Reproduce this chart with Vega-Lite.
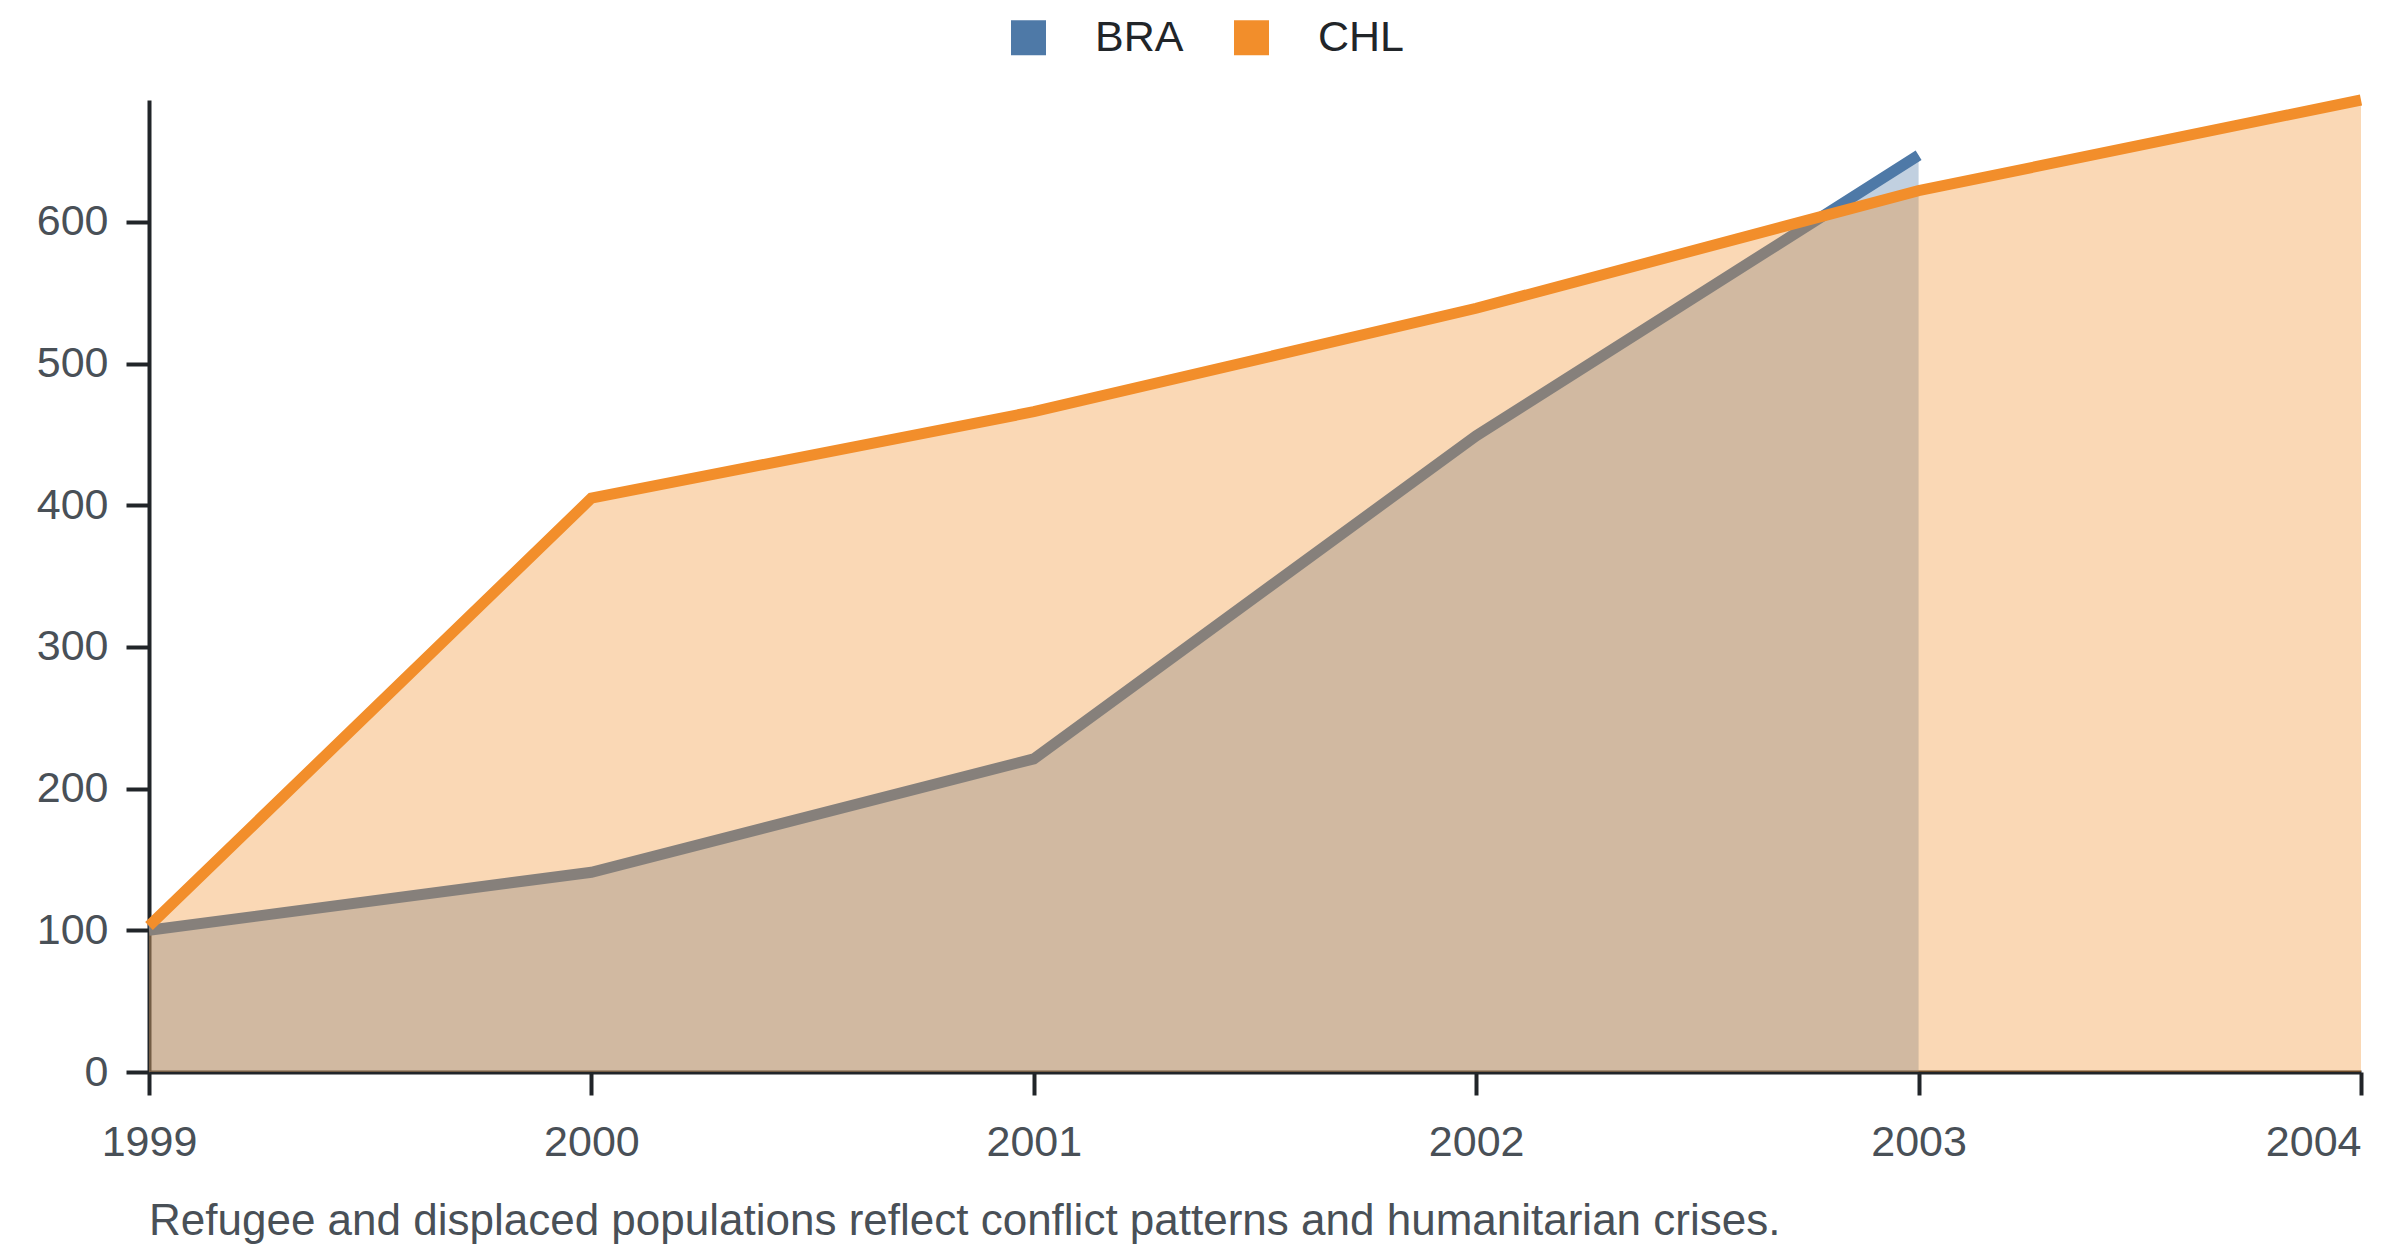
{
  "$schema": "https://vega.github.io/schema/vega-lite/v6.json",
  "width": 2212,
  "height": 972,
  "autosize": {"type": "none"},
  "padding": {"left": 149, "top": 100, "right": 39, "bottom": 184},
  "background": "white",
  "title": {
    "text": "Refugee and displaced populations reflect conflict patterns and humanitarian crises.",
    "orient": "bottom",
    "anchor": "start",
    "frame": "group",
    "font": "Liberation Sans",
    "fontSize": 44,
    "fontWeight": "normal",
    "color": "#495057",
    "offset": 36
  },
  "data": {
    "values": [
      {"country": "BRA", "year": 1999, "value": 100},
      {"country": "BRA", "year": 2000, "value": 141},
      {"country": "BRA", "year": 2001, "value": 221},
      {"country": "BRA", "year": 2002, "value": 449},
      {"country": "BRA", "year": 2003, "value": 647},
      {"country": "CHL", "year": 1999, "value": 103},
      {"country": "CHL", "year": 2000, "value": 405},
      {"country": "CHL", "year": 2001, "value": 466},
      {"country": "CHL", "year": 2002, "value": 539},
      {"country": "CHL", "year": 2003, "value": 622},
      {"country": "CHL", "year": 2004, "value": 686}
    ]
  },
  "encoding": {
    "x": {
      "field": "year",
      "type": "quantitative",
      "scale": {"domain": [1999, 2004], "nice": false, "zero": false},
      "axis": {
        "title": null,
        "values": [1999, 2000, 2001, 2002, 2003, 2004],
        "format": "d",
        "grid": false,
        "labelFlush": false,
        "labelAlign": {"condition": {"test": "datum.value == 2004", "value": "right"}, "value": "center"},
        "labelPadding": 26
      }
    },
    "y": {
      "field": "value",
      "type": "quantitative",
      "stack": null,
      "scale": {"nice": false, "zero": true},
      "axis": {
        "title": null,
        "values": [0, 100, 200, 300, 400, 500, 600],
        "grid": false,
        "labelPadding": 18
      }
    },
    "color": {
      "field": "country",
      "type": "nominal",
      "scale": {"domain": ["BRA", "CHL"], "range": ["#4e79a7", "#f28e2b"]},
      "legend": {
        "title": null,
        "orient": "none",
        "legendX": 858,
        "legendY": -84,
        "direction": "horizontal",
        "symbolType": "square",
        "symbolSize": 1225,
        "symbolStrokeWidth": 0,
        "symbolOpacity": 1,
        "labelFont": "Liberation Sans",
        "labelFontSize": 43,
        "labelColor": "#212529",
        "labelOffset": 45,
        "columnPadding": 46,
        "padding": 0,
        "encoding": {
          "symbols": {"update": {"fillOpacity": {"value": 1}, "opacity": {"value": 1}}}
        }
      }
    }
  },
  "layer": [
    {
      "transform": [{"filter": "datum.country === 'BRA'"}],
      "mark": {"type": "area", "fillOpacity": 0.35}
    },
    {
      "transform": [{"filter": "datum.country === 'BRA'"}],
      "mark": {"type": "line", "strokeWidth": 11, "strokeCap": "butt"}
    },
    {
      "transform": [{"filter": "datum.country === 'CHL'"}],
      "mark": {"type": "area", "fillOpacity": 0.35}
    },
    {
      "transform": [{"filter": "datum.country === 'CHL'"}],
      "mark": {"type": "line", "strokeWidth": 11, "strokeCap": "butt"}
    }
  ],
  "config": {
    "view": {"stroke": null},
    "axis": {
      "labelFont": "Liberation Sans",
      "labelFontSize": 43,
      "labelColor": "#495057",
      "domainColor": "#212529",
      "domainWidth": 4,
      "tickColor": "#212529",
      "tickWidth": 4,
      "tickSize": 23
    }
  }
}
